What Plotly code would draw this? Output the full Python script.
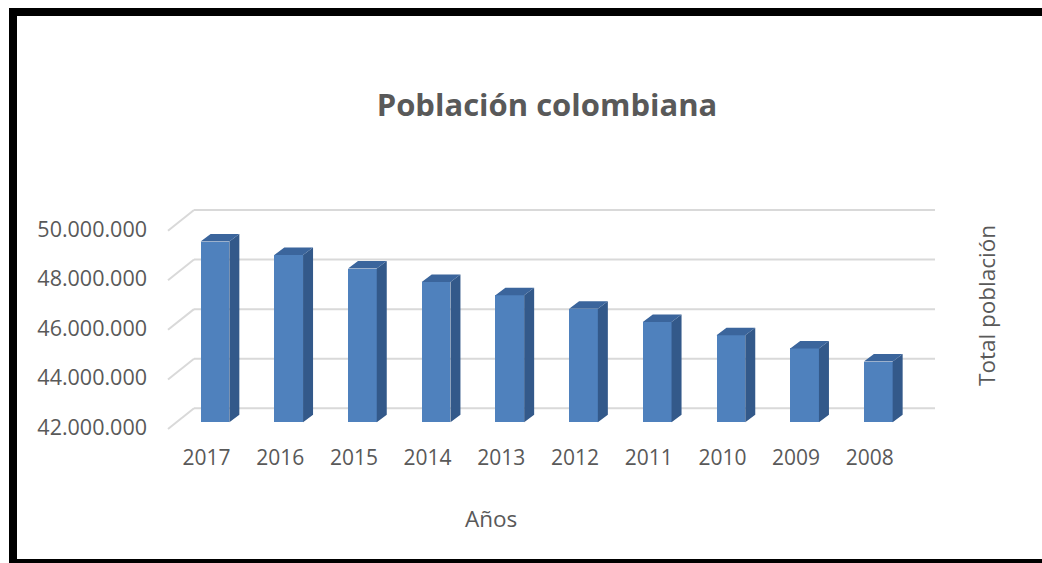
import plotly.graph_objects as go

# ---------------- data ----------------
years = ["2017", "2016", "2015", "2014", "2013", "2012", "2011", "2010", "2009", "2008"]
population = [49291609, 48747708, 48203405, 47661787, 47121089,
              46581823, 46044601, 45509584, 44978832, 44451147]
y_tickvals = [42000000, 44000000, 46000000, 48000000, 50000000]
y_ticktext = ["42.000.000", "44.000.000", "46.000.000", "48.000.000", "50.000.000"]
title_text = "Población colombiana"
x_title = "Años"
y_title = "Total población"

# ---------------- layout geometry (pixels) ----------------
W, H = 1042, 563
ML, MR, MT, MB = 168, 107, 200, 123
PW, PH = W - ML - MR, H - MT - MB
CAT_PX = 73.7            # pixels per category
X0 = -0.5224             # left range
XR = [X0, X0 + PW / CAT_PX]
PX_PER_UNIT = 24.79 / 1e6
BASE = 42000000
YR = [BASE - 17.7 / PX_PER_UNIT, BASE + (422.3 - 200) / PX_PER_UNIT]

BAR_W = 0.39
BAR_OFF = -0.08
DX = 10 / CAT_PX          # depth in category units
DY = 7.5 / PX_PER_UNIT    # depth in value units

FRONT = "#4f81bd"
SIDE = "#33598a"
TOP = "#3b659c"
TXT = "#595959"
GRID = "#d9d9d9"
FONT = "Open Sans"


def px2paper_x(px):
    return (px - ML) / PW


def px2paper_y(py):
    return (H - MB - py) / PH


idx = list(range(len(years)))

fig = go.Figure()
fig.add_trace(go.Bar(
    x=idx, y=[v - BASE for v in population], base=BASE,
    width=BAR_W, offset=BAR_OFF, marker=dict(color=FRONT, line=dict(width=0)),
    hoverinfo="skip", showlegend=False))

# side faces and top faces of the 3D columns
sx, sy, tx, ty = [], [], [], []
for i, v in zip(idx, population):
    xl = i + BAR_OFF
    xr = xl + BAR_W
    sx += [xr, xr + DX, xr + DX, xr, xr, None]
    sy += [BASE, BASE + DY, v + DY, v, BASE, None]
    tx += [xl, xr, xr + DX, xl + DX, xl, None]
    ty += [v, v, v + DY, v + DY, v, None]
fig.add_trace(go.Scatter(x=sx, y=sy, mode="lines", fill="toself", fillcolor=SIDE,
                         line=dict(width=0, color=SIDE), hoverinfo="skip", showlegend=False))
fig.add_trace(go.Scatter(x=tx, y=ty, mode="lines", fill="toself", fillcolor=TOP,
                         line=dict(width=0, color=TOP), hoverinfo="skip", showlegend=False))

shapes = []
# gridlines: back wall + left side-wall diagonal
for v in y_tickvals:
    shapes.append(dict(type="line", xref="paper", yref="y", ysizemode="pixel", yanchor=v,
                       x0=px2paper_x(194), x1=1, y0=14, y1=14,
                       line=dict(color=GRID, width=2), layer="below"))
    shapes.append(dict(type="line", xref="paper", yref="y", ysizemode="pixel", yanchor=v,
                       x0=0, x1=px2paper_x(194), y0=-6.7, y1=14,
                       line=dict(color=GRID, width=2), layer="below"))
# black frame
shapes.append(dict(type="rect", xref="paper", yref="paper",
                   x0=px2paper_x(13), x1=px2paper_x(1050),
                   y0=px2paper_y(12), y1=px2paper_y(563),
                   line=dict(color="black", width=8), fillcolor="rgba(0,0,0,0)"))

annotations = [
    dict(text=x_title, xref="paper", yref="paper", x=px2paper_x(491), y=px2paper_y(518),
         showarrow=False, font=dict(family=FONT, size=22.5, color=TXT),
         xanchor="center", yanchor="middle"),
    dict(text=y_title, xref="paper", yref="paper", x=px2paper_x(986), y=px2paper_y(306),
         showarrow=False, textangle=-90, font=dict(family=FONT, size=22.5, color=TXT),
         xanchor="center", yanchor="middle"),
]

fig.update_layout(
    width=W, height=H, autosize=False,
    margin=dict(l=ML, r=MR, t=MT, b=MB, pad=0),
    paper_bgcolor="white", plot_bgcolor="white",
    title=dict(text=title_text, x=547 / W, xref="container", xanchor="center",
               y=1 - 105 / H, yref="container", yanchor="middle",
               font=dict(family=FONT, size=31, color=TXT, weight="bold")),
    xaxis=dict(range=XR, tickvals=idx, ticktext=years, showgrid=False, zeroline=False,
               showline=False, ticks="", ticklabelstandoff=3,
               tickfont=dict(family=FONT, size=21, color=TXT),
               fixedrange=True),
    yaxis=dict(range=YR, tickvals=y_tickvals, ticktext=y_ticktext, showgrid=False,
               zeroline=False, showline=False, ticks="", ticklabelstandoff=20,
               ticklabelshift=5,
               tickfont=dict(family=FONT, size=21.5, color=TXT), fixedrange=True),
    shapes=shapes, annotations=annotations,
    showlegend=False, bargap=0,
)

fig.write_html("out.html")
